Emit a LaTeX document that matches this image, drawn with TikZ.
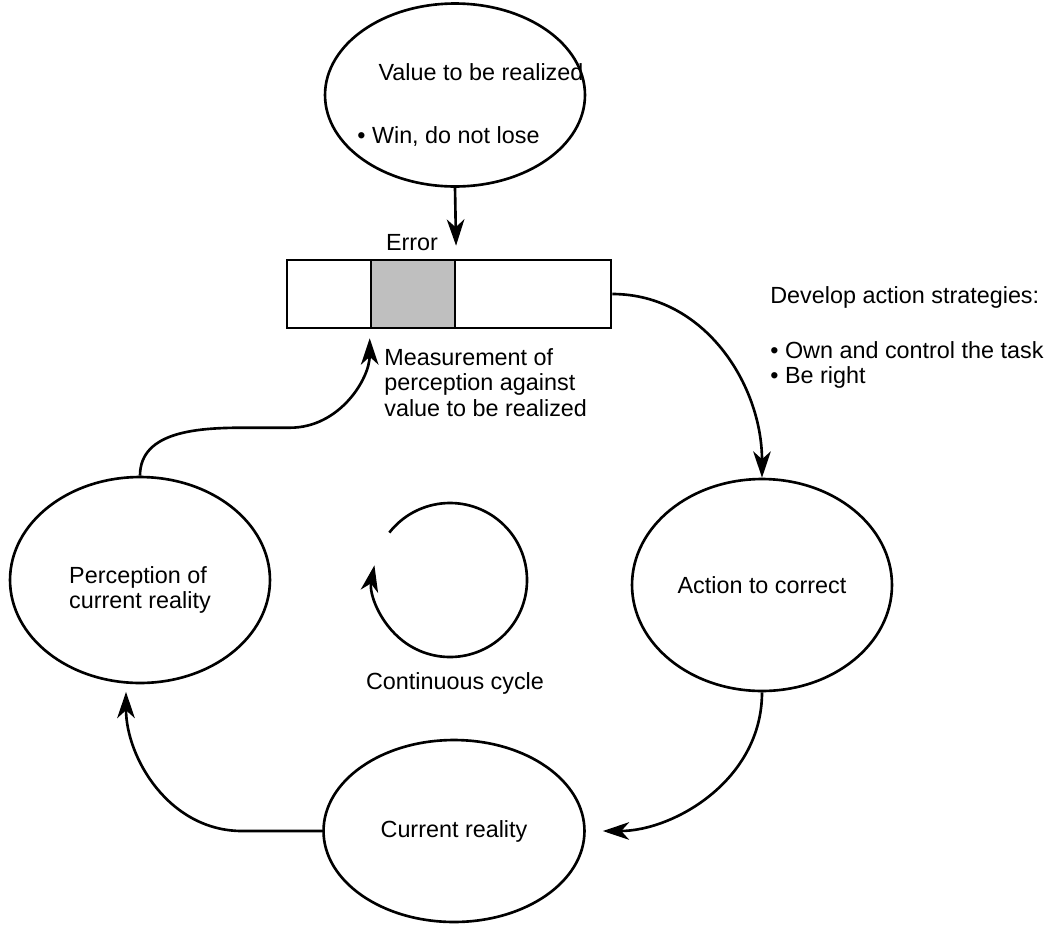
\documentclass[tikz,border=0pt]{standalone}
\usepackage{fontspec}
\setmainfont{Liberation Sans}
\usetikzlibrary{arrows.meta}
\usetikzlibrary{shapes.geometric}
\usetikzlibrary{positioning}
\tikzset{bubble/.style = {draw, ellipse, line width=1.5pt, inner sep=0, align=center}}
\tikzset{cell/.style = {draw, line width=1.5pt, inner sep=0, minimum height=1.36cm}}
\tikzset{arr/.style = {line width=1.5pt, -{Stealth[length=15pt, width=10pt, inset=4.5pt]}}}
\tikzset{txt/.style = {inner sep=0, align=left, anchor=north west}}
\definecolor{errgray}{gray}{0.75}

\begin{document}
\begin{tikzpicture}[x=0.02cm, y=-0.02cm, font=\fontsize{13.3}{14.5}\selectfont]
      \useasboundingbox (0,0) rectangle (1055,924);
      % the four bubbles
      \node [bubble, minimum width=5.2cm, minimum height=3.66cm] (value) at (455,95) {};
      \node [bubble, minimum width=5.2cm, minimum height=4.12cm] (perc) at (140,580) {};
      \node [bubble, minimum width=5.2cm, minimum height=4.24cm] (act) at (762,585) {Action to correct};
      \node [bubble, minimum width=5.22cm, minimum height=3.64cm] (cur) at (454,831) {Current reality};
      \node [inner sep=0, align=left] (perctxt) at (140,590) {Perception of\\current reality};
      \node [inner sep=0] (valtxt) at (481,72) {Value to be realized};
      \node [inner sep=0, anchor=west] (wintxt) at (357,137) {\textbullet{} Win, do not lose};
      % error bar
      \node [cell, minimum width=6.48cm] (bar) at (449,294) {};
      \node [cell, fill=errgray, minimum width=1.68cm] (err) at (413,294) {};
      \node [inner sep=0] (errtxt) at (412,243) {Error};
      \node [txt] (meas) at (384,348) {Measurement of\\perception against\\value to be realized};
      \node [txt] (strat) at (770,286) {Develop action strategies:};
      \node [txt] (list) at (770,341) {\textbullet{} Own and control the task\\\textbullet{} Be right};
      % connectors
      \draw [arr, shorten >=0.26cm] (value.south) -- (err.north east);
      \draw [arr] (bar.east) to[out=0, in=90] (act.north);
      \draw [arr, shorten >=0.34cm] (act.south) to[out=-90, in=0] (cur.east);
      \draw [arr, shorten >=0.15cm] (cur.west) -- ++(-80,0) to[out=180, in=-90] ([xshift=-0.28cm]perc.south);
      \draw [arr, shorten >=0.18cm] (perc.north) to[out=90, in=180] ++(105,-48) -- ++(45,0) to[out=0, in=-90] (err.south west);
      % cycle
      \coordinate (cyc) at (450,580);
      \draw [arr] (cyc) ++(218:77) arc[start angle=218, end angle=551, radius=77];
      \node [inner sep=0] (cyctxt) at (455,683) {Continuous cycle};
    \end{tikzpicture}
\end{document}
